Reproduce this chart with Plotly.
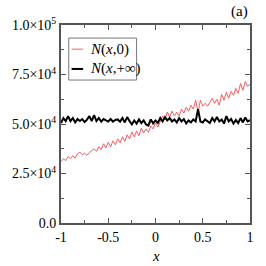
import numpy as np
import plotly.graph_objects as go

x_vals = [round(-1 + 0.025 * i, 3) for i in range(81)]

n_initial = [31, 32.5, 31.5, 33.5, 32.5, 34, 32.8, 35, 35.8, 34.5,
             35.2, 34.2, 35.5, 36.5, 37.5, 36.2, 38.5, 37, 40, 38,
             40.8, 38.5, 41.5, 39.5, 42.5, 40.5, 43.5, 41.2, 44.5, 42.5,
             46, 43.5, 46.5, 44, 48, 45.5, 47.5, 45.8, 49, 47.5,
             50.5, 48.5, 51.5, 54, 52, 56, 53.5, 56.5, 54, 56,
             54, 57.5, 55.5, 58.5, 56.5, 59.5, 57.5, 62, 56, 62,
             59, 60.5, 59, 61, 63, 60.5, 62.5, 59.5, 65, 62,
             66, 63, 66.5, 64.5, 68, 65.5, 70.5, 67, 71.5, 69, 70]

n_final = [50.5, 53, 51.5, 54, 51.5, 53, 50.8, 52.5, 51.5, 52.5,
           51, 52.2, 54, 51.5, 54.5, 51.5, 53, 51.2, 52.5, 51.8,
           51.2, 52.5, 51.2, 52, 52.3, 51.2, 53, 50.8, 53.5, 51.5,
           49.8, 51.8, 50.2, 52.3, 50.5, 51.8, 49.8, 49.2, 52.3, 50.3,
           51.8, 50.5, 53, 51.3, 53.5, 51.8, 53, 51.3, 52.3, 50.8,
           53, 51.3, 52.5, 50.3, 51.8, 50.8, 52.3, 51.3, 57.5, 51.3,
           50.8, 52.3, 51.3, 50.5, 53, 51.3, 53.5, 51.3, 52.3, 50.2,
           54, 51.3, 52.5, 50.2, 52, 50.5, 53, 50.8, 53.3, 51.3, 52]

series_names = ["<i>N</i>(<i>x</i>,0)", "<i>N</i>(<i>x</i>,+∞)"]
series_colors = ["#ff5a5a", "black"]
series_widths = [1, 2]

y_ticks = [0, 25000, 50000, 75000, 100000]
y_tick_labels = ["0.0", "2.5×10<sup>4</sup>", "5.0×10<sup>4</sup>", "7.5×10<sup>4</sup>", "1.0×10<sup>5</sup>"]
x_ticks = [-1, -0.5, 0, 0.5, 1]
x_tick_labels = ["-1", "-0.5", "0", "0.5", "1"]

font_family = "Liberation Serif"
axis_color = "#555555"

fig = go.Figure()
for vals, name, col, w in zip([n_initial, n_final], series_names, series_colors, series_widths):
    fig.add_trace(go.Scatter(x=x_vals, y=[v * 1000 for v in vals], mode="lines",
                             line=dict(color=col, width=w), name=name, showlegend=False))

axis_common = dict(showline=True, linecolor=axis_color, linewidth=2, mirror="ticks",
                   ticks="inside", ticklen=5, tickcolor=axis_color, tickwidth=1,
                   showgrid=False, zeroline=False,
                   tickfont=dict(family=font_family, size=14, color="black"))

# manual legend (box, line samples, labels) in paper coordinates
shapes = [dict(type="rect", xref="paper", yref="paper", x0=0.041, x1=0.40, y0=0.722, y1=0.934,
               line=dict(color="#777777", width=1), fillcolor="white", layer="above")]
annotations = []
legend_y = [0.878, 0.778]
for ly, name, col, w in zip(legend_y, series_names, series_colors, series_widths):
    shapes.append(dict(type="line", xref="paper", yref="paper", x0=0.056, x1=0.117, y0=ly, y1=ly,
                       line=dict(color=col, width=w), layer="above"))
    annotations.append(dict(text=name, x=0.143, y=ly, xref="paper", yref="paper",
                            xanchor="left", yanchor="middle", showarrow=False,
                            font=dict(family=font_family, size=15, color="black")))

annotations += [
    dict(text="(a)", x=1, y=1.015, xref="paper", yref="paper",
         xanchor="right", yanchor="bottom", showarrow=False,
         font=dict(family=font_family, size=15)),
    dict(text="<i>x</i>", x=0.5, y=-0.122, xref="paper", yref="paper",
         xanchor="center", yanchor="top", showarrow=False, borderpad=0,
         font=dict(family=font_family, size=15)),
]

fig.update_layout(
    width=266, height=266,
    margin=dict(l=57, r=12, t=25, b=43),
    paper_bgcolor="white", plot_bgcolor="white",
    font=dict(family=font_family, color="black", size=14),
    showlegend=False,
    xaxis=dict(range=[-1, 1], tickvals=x_ticks, ticktext=x_tick_labels,
               minor=dict(dtick=0.25, ticks="inside", ticklen=3, tickcolor=axis_color),
               **axis_common),
    yaxis=dict(range=[0, 100000], tickvals=y_ticks, ticktext=y_tick_labels,
               minor=dict(dtick=12500, ticks="inside", ticklen=3, tickcolor=axis_color),
               **axis_common),
    shapes=shapes,
    annotations=annotations,
)

fig.write_html("out.html", config={"displayModeBar": False},
               post_script="document.body.style.margin='0';")
